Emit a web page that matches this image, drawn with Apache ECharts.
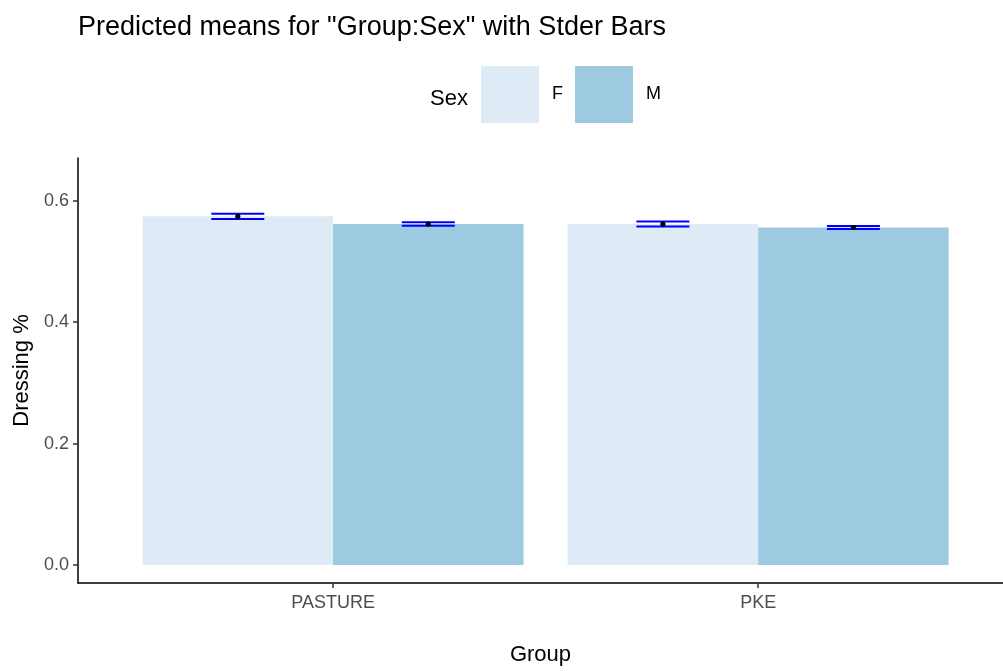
<!DOCTYPE html>
<html>
<head>
<meta charset="utf-8">
<script src="https://cdn.jsdelivr.net/npm/echarts@6/dist/echarts.min.js"></script>
<style>
  html, body { margin: 0; padding: 0; background: #fff; }
  #chart { width: 1003px; height: 671px; }
</style>
</head>
<body>
<div id="chart"></div>
<script>
// values
const groups = ['PASTURE', 'PKE']
const sexes = ['F', 'M']
const femaleMean = [0.5745, 0.5618]
const maleMean = [0.5618, 0.5560]
const femaleSe = [0.0043, 0.0043]
const maleSe = [0.0028, 0.0025]
const yTicks = [0, 0.2, 0.4, 0.6]

const BAR_W = 190.5
const WHISKER = 26.5
const FONT = 'Liberation Sans, Arial, sans-serif'

// group positions on the x axis are 1, 2
const xPos = groups.map((g, i) => i + 1)

const errRows = []
groups.forEach((g, i) => {
  errRows.push([xPos[i], femaleMean[i], femaleMean[i] - femaleSe[i], femaleMean[i] + femaleSe[i], 0])
  errRows.push([xPos[i], maleMean[i], maleMean[i] - maleSe[i], maleMean[i] + maleSe[i], 1])
})

const chart = echarts.init(document.getElementById('chart'))

chart.setOption({
  animation: false,
  textStyle: { fontFamily: FONT },
  title: [
    {
      text: 'Predicted means for "Group:Sex" with Stder Bars',
      left: 73,
      top: 9,
      textStyle: { color: '#000', fontSize: 27, fontWeight: 'normal', fontFamily: FONT }
    },
    {
      text: 'Sex',
      left: 425,
      top: 83,
      textStyle: { color: '#000', fontSize: 22, fontWeight: 'normal', fontFamily: FONT }
    }
  ],
  color: ['#DEEBF7', '#9ECAE1'],
  legend: {
    data: sexes,
    left: 476,
    top: 61,
    icon: 'rect',
    itemWidth: 58,
    itemHeight: 57,
    itemGap: 12,
    textStyle: { color: '#000', fontSize: 18, lineHeight: 26, verticalAlign: 'top', padding: [0, 0, 0, 8], fontFamily: FONT }
  },
  grid: {
    left: 78,
    right: 0,
    top: 158,
    bottom: 79,
    containLabel: false
  },
  xAxis: {
    type: 'value',
    min: 0.4,
    max: 2.576,
    name: 'Group',
    nameLocation: 'middle',
    nameGap: 61,
    nameTextStyle: { color: '#000', fontSize: 22, fontFamily: FONT },
    axisLine: { show: true, onZero: false, lineStyle: { color: '#000', width: 1.5 } },
    axisTick: { show: true, customValues: xPos, length: 5, lineStyle: { color: '#333', width: 1.5 } },
    axisLabel: {
      customValues: xPos,
      color: '#4D4D4D',
      fontSize: 18,
      margin: 11,
      formatter: v => groups[Math.round(v) - 1] || ''
    },
    splitLine: { show: false }
  },
  yAxis: {
    type: 'value',
    min: -0.0295,
    max: 0.6705,
    name: 'Dressing %',
    nameLocation: 'middle',
    nameGap: 43,
    nameTextStyle: { color: '#000', fontSize: 22, fontFamily: FONT },
    axisLine: { show: true, onZero: false, lineStyle: { color: '#000', width: 1.5 } },
    axisTick: { show: true, customValues: yTicks, length: 5, lineStyle: { color: '#333', width: 1.5 } },
    axisLabel: {
      customValues: yTicks,
      color: '#4D4D4D',
      fontSize: 18,
      margin: 9,
      formatter: v => v.toFixed(1)
    },
    splitLine: { show: false }
  },
  series: [
    {
      name: 'F',
      type: 'bar',
      barWidth: BAR_W,
      barGap: '0%',
      data: groups.map((g, i) => [xPos[i], femaleMean[i]])
    },
    {
      name: 'M',
      type: 'bar',
      barWidth: BAR_W,
      barGap: '0%',
      data: groups.map((g, i) => [xPos[i], maleMean[i]])
    },
    {
      name: 'stderr',
      type: 'custom',
      z: 10,
      data: errRows,
      encode: { x: 0, y: [1, 2, 3] },
      renderItem: (params, api) => {
        const side = api.value(4) === 0 ? -1 : 1
        const mid = api.coord([api.value(0), api.value(1)])
        const lo = api.coord([api.value(0), api.value(2)])
        const hi = api.coord([api.value(0), api.value(3)])
        const cx = mid[0] + side * BAR_W / 2
        const blue = { stroke: '#0000FF', lineWidth: 2 }
        return {
          type: 'group',
          children: [
            { type: 'line', shape: { x1: cx - WHISKER, y1: hi[1], x2: cx + WHISKER, y2: hi[1] }, style: blue },
            { type: 'line', shape: { x1: cx - WHISKER, y1: lo[1], x2: cx + WHISKER, y2: lo[1] }, style: blue },
            { type: 'line', shape: { x1: cx, y1: hi[1], x2: cx, y2: lo[1] }, style: blue },
            { type: 'circle', shape: { cx: cx, cy: mid[1], r: 2.6 }, style: { fill: '#000' } }
          ]
        }
      }
    }
  ]
})
</script>
</body>
</html>
